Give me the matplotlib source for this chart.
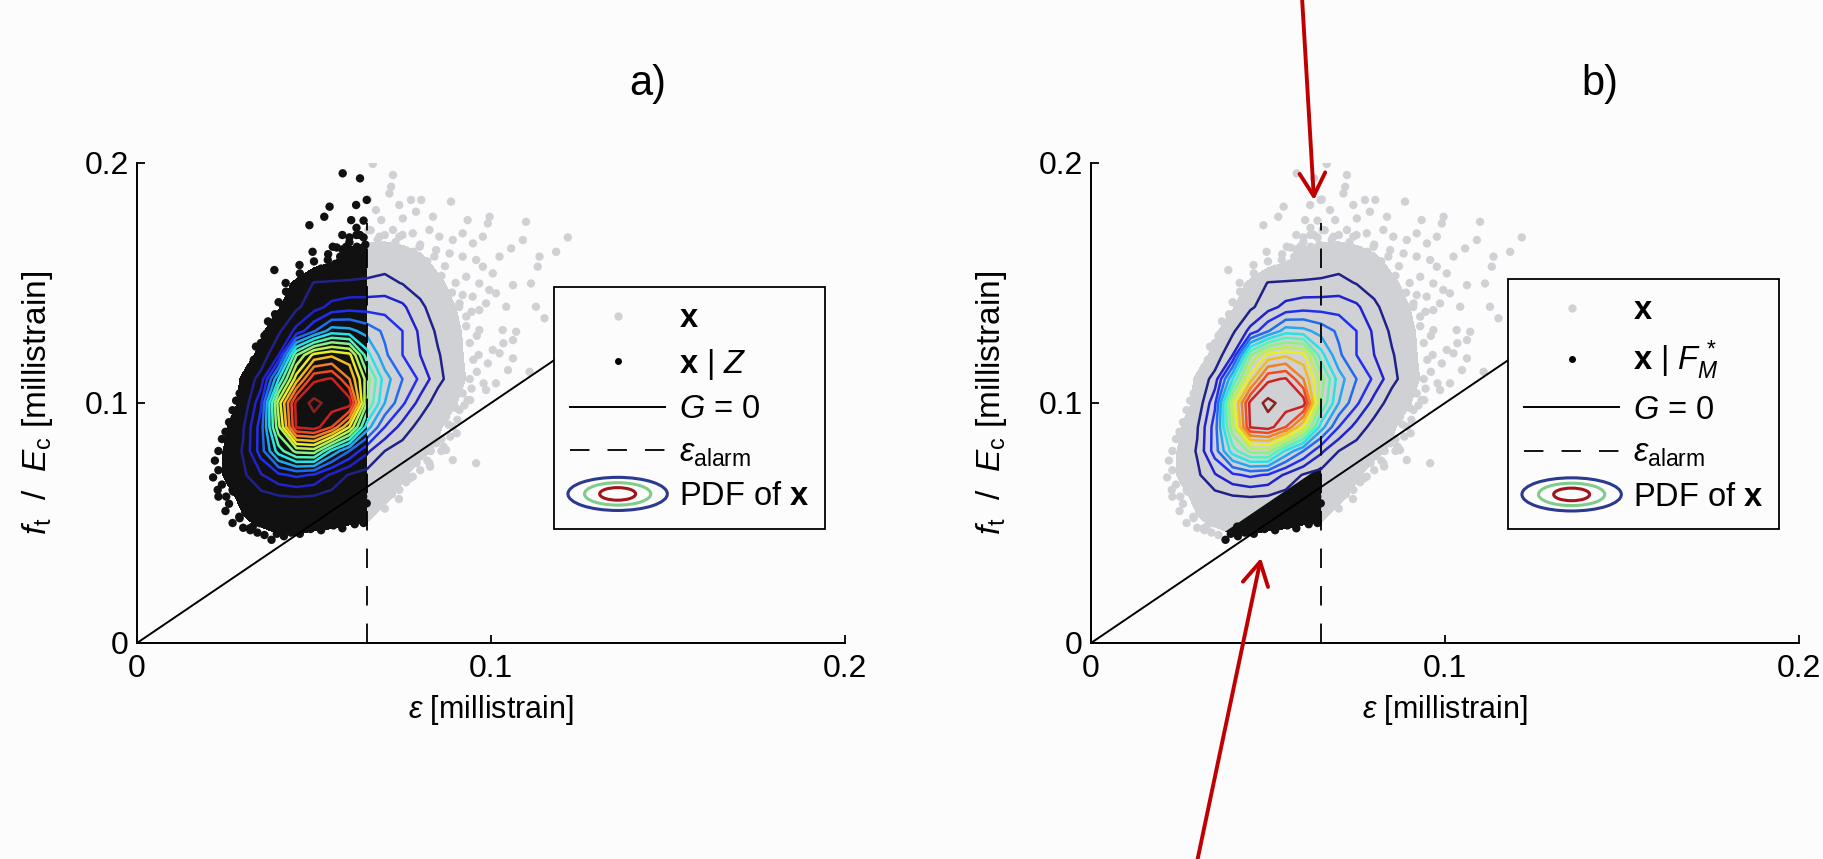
import numpy as np
import matplotlib.pyplot as plt
from matplotlib.patches import Ellipse, Polygon, Rectangle
from matplotlib.legend_handler import HandlerBase
from matplotlib.lines import Line2D

plt.rcParams['font.family'] = ['Liberation Sans', 'DejaVu Sans']
plt.rcParams['mathtext.fontset'] = 'custom'
plt.rcParams['mathtext.rm'] = 'Liberation Sans'
plt.rcParams['mathtext.it'] = 'Liberation Sans:italic'
plt.rcParams['mathtext.bf'] = 'Liberation Sans:bold'
plt.rcParams['lines.scale_dashes'] = False

# grid of the estimated PDF of x (strain on x, f_t/E_c on y)
eps_grid = [0.015, 0.020, 0.025, 0.030, 0.035, 0.040, 0.045, 0.050, 0.055, 0.060,
            0.065, 0.070, 0.075, 0.080, 0.085, 0.090, 0.095, 0.100, 0.105, 0.110]
ratio_grid = [0.03, 0.04, 0.05, 0.06, 0.07, 0.08, 0.09, 0.10, 0.11,
              0.12, 0.13, 0.14, 0.15, 0.16, 0.17, 0.18, 0.19, 0.20]
# PDF in contour-level units: 1 = outermost contour, 0 = edge of the dense sample cloud
pdf_levels = [
    [-2.5, -2.2, -2.0, -1.7, -1.5, -1.3, -1.3, -1.3, -1.4, -1.5, -1.6, -1.8, -2.0, -2.2, -2.4, -2.5, -2.5, -2.5, -2.5, -2.5],
    [-2.0, -1.5, -1.2, -0.8, -0.5, -0.3, -0.3, -0.4, -0.5, -0.6, -0.7, -1.0, -1.4, -1.8, -2.1, -2.3, -2.5, -2.5, -2.5, -2.5],
    [-2.0, -1.3, -0.7, -0.1, 0.1, 0.25, 0.25, 0.2, 0.15, 0.05, 0.0, -0.3, -0.7, -1.2, -1.6, -2.0, -2.3, -2.5, -2.5, -2.5],
    [-1.5, -0.8, -0.3, 0.2, 0.5, 0.7, 0.8, 0.7, 0.5, 0.4, 0.3, 0.1, -0.2, -0.6, -1.2, -1.7, -2.1, -2.4, -2.5, -2.5],
    [-1.5, -0.5, 0.1, 0.8, 1.9, 2.8, 3.2, 2.9, 1.8, 0.9, 0.6, 0.3, 0.1, -0.3, -0.8, -1.4, -1.9, -2.3, -2.5, -2.5],
    [-1.5, -0.6, 0.1, 1.1, 3.5, 6.5, 8.3, 8.5, 5.8, 4.0, 2.2, 1.0, 0.5, 0.2, -0.1, -0.6, -1.2, -1.8, -2.3, -2.5],
    [-1.5, -0.8, -0.1, 0.9, 3.5, 8.7, 14.1, 14.5, 13.0, 10.0, 5.5, 3.0, 1.6, 0.6, 0.1, -0.3, -1.0, -1.5, -2.0, -2.4],
    [-1.8, -1.2, -0.4, 0.2, 2.8, 9.5, 14.3, 15.3, 14.6, 14.6, 8.0, 5.0, 3.2, 1.6, 0.5, 0.05, -0.5, -1.2, -1.8, -2.3],
    [-2.0, -1.5, -0.8, 0.2, 1.4, 6.0, 10.5, 13.8, 14.1, 12.0, 8.5, 5.5, 4.0, 2.8, 1.3, 0.4, -0.3, -1.0, -1.6, -2.2],
    [-2.2, -1.8, -1.5, -0.5, 0.3, 2.0, 7.9, 10.3, 10.8, 10.3, 6.4, 4.2, 3.0, 2.0, 1.1, 0.3, -0.4, -1.0, -1.6, -2.2],
    [-2.4, -2.0, -1.8, -1.2, -0.2, 0.8, 2.3, 3.9, 5.5, 5.3, 4.6, 3.8, 3.0, 1.8, 0.8, 0.2, -0.4, -1.0, -1.6, -2.2],
    [-2.5, -2.3, -2.0, -1.6, -1.0, -0.1, 0.8, 1.6, 2.3, 2.6, 2.6, 2.6, 2.2, 1.2, 0.5, 0.0, -0.6, -1.2, -1.8, -2.3],
    [-2.5, -2.5, -2.3, -2.0, -1.5, -0.5, 0.2, 1.05, 1.1, 1.1, 1.15, 1.3, 0.95, 0.6, 0.2, -0.3, -1.0, -1.5, -2.0, -2.4],
    [-2.5, -2.5, -2.5, -2.3, -2.0, -1.5, -1.0, -0.6, -0.2, 0.3, 0.4, 0.5, 0.4, 0.2, -0.3, -0.8, -1.4, -1.9, -2.3, -2.5],
    [-2.5, -2.5, -2.5, -2.5, -2.3, -2.0, -1.6, -1.2, -0.8, -0.3, -0.2, -0.2, -0.3, -0.6, -1.0, -1.5, -2.0, -2.4, -2.5, -2.5],
    [-2.5, -2.5, -2.5, -2.5, -2.5, -2.5, -2.5, -2.3, -1.9, -1.5, -1.4, -1.4, -1.5, -1.8, -2.2, -2.5, -2.5, -2.5, -2.5, -2.5],
    [-2.5, -2.5, -2.5, -2.5, -2.5, -2.5, -2.5, -2.5, -2.5, -2.5, -2.5, -2.5, -2.5, -2.5, -2.5, -2.5, -2.5, -2.5, -2.5, -2.5],
    [-2.5, -2.5, -2.5, -2.5, -2.5, -2.5, -2.5, -2.5, -2.5, -2.5, -2.5, -2.5, -2.5, -2.5, -2.5, -2.5, -2.5, -2.5, -2.5, -2.5],
]
contour_levels = list(range(1, 16))

# samples of x outside the dense cloud (eps, f_t/E_c)
samples = [
    (0.0666, 0.1996), (0.0581, 0.1957), (0.0723, 0.1950), (0.0718, 0.1901), (0.0713, 0.1873),
    (0.0652, 0.1848), (0.0619, 0.1825), (0.0544, 0.1818), (0.0529, 0.1776), (0.0605, 0.1762),
    (0.0675, 0.1804), (0.0690, 0.1762), (0.0741, 0.1825), (0.0774, 0.1846), (0.0803, 0.1846),
    (0.0751, 0.1769), (0.0788, 0.1797), (0.0836, 0.1776), (0.0887, 0.1839), (0.0934, 0.1762),
    (0.0996, 0.1776), (0.0991, 0.1748), (0.1099, 0.1755), (0.1217, 0.1690), (0.1184, 0.1630),
    (0.1137, 0.1610), (0.1057, 0.1644), (0.1024, 0.1610), (0.1090, 0.1679), (0.0487, 0.1741),
    (0.0496, 0.1630), (0.0539, 0.1596), (0.0459, 0.1575), (0.0388, 0.1554), (0.0421, 0.1464),
    (0.0412, 0.1408), (0.0440, 0.1443), (0.0336, 0.1235), (0.0350, 0.1214), (0.0313, 0.1019),
    (0.1132, 0.1568), (0.1062, 0.1491), (0.1113, 0.1498), (0.1151, 0.1353), (0.1127, 0.1401),
    (0.1043, 0.1401), (0.1071, 0.1297), (0.1062, 0.1262), (0.1033, 0.1304), (0.0967, 0.1304),
    (0.1005, 0.1221), (0.1024, 0.1207), (0.1062, 0.1186), (0.0991, 0.1165), (0.1048, 0.1137),
    (0.1109, 0.1130), (0.1014, 0.1082), (0.0986, 0.1054), (0.0934, 0.1012), (0.0911, 0.0971),
    (0.0723, 0.1721), (0.0741, 0.1693), (0.0779, 0.1707), (0.0826, 0.1721), (0.0854, 0.1693),
    (0.0892, 0.1679), (0.0920, 0.1707), (0.0949, 0.1665), (0.0977, 0.1693), (0.0685, 0.1693),
    (0.0704, 0.1637), (0.0760, 0.1637), (0.0798, 0.1651), (0.0845, 0.1637), (0.0883, 0.1623),
    (0.0920, 0.1610), (0.0958, 0.1596), (0.0977, 0.1568), (0.1005, 0.1540), (0.0930, 0.1526),
    (0.0967, 0.1498), (0.0995, 0.1471), (0.0948, 0.1443), (0.0986, 0.1415), (0.1014, 0.1457),
    (0.0911, 0.1415), (0.0930, 0.1360), (0.0967, 0.1387), (0.0591, 0.1651), (0.0553, 0.1651),
    (0.0628, 0.1637), (0.0572, 0.1568), (0.0610, 0.1596),
    (0.0854, 0.0985), (0.0873, 0.0943), (0.0892, 0.0901), (0.0836, 0.0929), (0.0817, 0.0874),
    (0.0845, 0.0832), (0.0873, 0.0804), (0.0892, 0.0762), (0.0958, 0.0749), (0.0826, 0.0749),
    (0.0779, 0.0693), (0.0741, 0.0638), (0.0723, 0.0665), (0.0685, 0.0651), (0.0704, 0.0707),
    (0.0760, 0.0735), (0.0771, 0.0686), (0.0828, 0.0735), (0.0866, 0.0818), (0.0903, 0.0874),
    (0.0941, 0.1012), (0.1035, 0.1249), (0.0979, 0.1082),
    (0.0275, 0.0936), (0.0261, 0.0735), (0.0228, 0.0638), (0.0252, 0.0610), (0.0270, 0.0638),
    (0.0299, 0.0596), (0.0308, 0.0554), (0.0289, 0.0526), (0.0327, 0.0485), (0.0336, 0.0540),
    (0.0355, 0.0513), (0.0308, 0.0624), (0.0280, 0.0693), (0.0299, 0.0762), (0.0289, 0.0818),
    (0.0262, 0.0840), (0.0285, 0.0890), (0.0300, 0.0985), (0.0318, 0.1080), (0.0330, 0.1130),
    (0.0345, 0.1170), (0.0366, 0.1290), (0.0392, 0.1350),
    (0.0630, 0.1936), (0.0649, 0.1846), (0.0654, 0.1721), (0.0564, 0.1648), (0.0621, 0.1651),
    (0.0574, 0.1610), (0.0489, 0.1533), (0.0451, 0.1485), (0.0461, 0.1422), (0.0433, 0.1380),
    (0.0385, 0.1304), (0.0362, 0.1207), (0.0395, 0.1248), (0.0512, 0.1540), (0.0545, 0.1561),
    (0.0277, 0.0770), (0.0277, 0.0679), (0.0272, 0.0631), (0.0319, 0.0478), (0.0347, 0.0499),
    (0.0380, 0.0499), (0.0413, 0.0485), (0.0442, 0.0464), (0.0461, 0.0492), (0.0498, 0.0554),
    (0.0536, 0.0526), (0.0545, 0.0554), (0.0621, 0.0596), (0.0649, 0.0582), (0.0639, 0.0610),
    (0.0395, 0.0455), (0.0415, 0.0445), (0.0435, 0.0460), (0.0460, 0.0455), (0.0490, 0.0475),
    (0.0520, 0.0470), (0.0555, 0.0490), (0.0580, 0.0478), (0.0615, 0.0495), (0.0640, 0.0500),
    # fringe of the dense cloud
    (0.0560, 0.1580), (0.0600, 0.1670), (0.0640, 0.1690), (0.0680, 0.1680), (0.0730, 0.1670),
    (0.0780, 0.1630), (0.0820, 0.1590), (0.0860, 0.1530), (0.0890, 0.1460), (0.0910, 0.1400),
    (0.0930, 0.1320), (0.0940, 0.1250), (0.0950, 0.1180), (0.0940, 0.1100), (0.0920, 0.1040),
    (0.0900, 0.0980), (0.0880, 0.0910), (0.0860, 0.0850), (0.0830, 0.0800), (0.0790, 0.0750),
    (0.0760, 0.0700), (0.0720, 0.0620), (0.0690, 0.0580), (0.0520, 0.1560), (0.0470, 0.1510),
    (0.0430, 0.1450), (0.0390, 0.1370), (0.0360, 0.1280), (0.0330, 0.1180), (0.0310, 0.1100),
    (0.0290, 0.1040), (0.0270, 0.0970), (0.0250, 0.0880), (0.0230, 0.0800), (0.0230, 0.0720),
    (0.0240, 0.0660), (0.0260, 0.0580), (0.0290, 0.0520), (0.0320, 0.0470), (0.0360, 0.0450),
    (0.0540, 0.1620), (0.0580, 0.1640), (0.0620, 0.1700), (0.0660, 0.1720), (0.0700, 0.1700),
    (0.0750, 0.1700), (0.0800, 0.1660), (0.0840, 0.1610), (0.0870, 0.1570), (0.0900, 0.1500),
    (0.0920, 0.1450), (0.0945, 0.1380), (0.0960, 0.1280), (0.0965, 0.1200), (0.0960, 0.1130),
    (0.0945, 0.1060), (0.0925, 0.0990), (0.0905, 0.0930), (0.0885, 0.0860), (0.0860, 0.0800),
    (0.0820, 0.0760), (0.0800, 0.0720), (0.0760, 0.0670), (0.0740, 0.0600), (0.0700, 0.0560),
    (0.0500, 0.1590), (0.0460, 0.1540), (0.0420, 0.1500), (0.0400, 0.1420), (0.0370, 0.1340),
    (0.0350, 0.1250), (0.0320, 0.1150), (0.0300, 0.1060), (0.0280, 0.1010), (0.0260, 0.0920),
    (0.0240, 0.0850), (0.0220, 0.0760), (0.0215, 0.0690), (0.0230, 0.0610), (0.0250, 0.0550),
    (0.0270, 0.0500), (0.0300, 0.0480), (0.0340, 0.0460), (0.0380, 0.0430),
    (0.0630, 0.1700), (0.0645, 0.1660), (0.0600, 0.1690), (0.0640, 0.1760), (0.0580, 0.1700),
    (0.0620, 0.1730),
]

eps_alarm = 0.065
g_margin = 0.0085      # band above G = 0 holding x | F_M*
ticks = [0, 0.1, 0.2]
tick_labels = ['0', '0.1', '0.2']
panel_titles = ['a)', 'b)']
legend_labels = [
    [r'$\mathbf{x}$', r'$\mathbf{x}$ | $Z$', r'$G$ = 0',
     r'$\varepsilon_{\mathrm{alarm}}$', r'PDF of $\mathbf{x}$'],
    [r'$\mathbf{x}$', r'$\mathbf{x}$ | $F_M^{\,*}$', r'$G$ = 0',
     r'$\varepsilon_{\mathrm{alarm}}$', r'PDF of $\mathbf{x}$'],
]

bg = '#fcfcfc'
gray = '#cfd1d4'
navy = '#2b3990'
jet = plt.get_cmap('jet')
line_colors = [tuple(0.82 * np.array(jet(i / 14.0)[:3]) + 0.18 * 0.72) for i in range(15)]

sx = np.array([p[0] for p in samples])
sy = np.array([p[1] for p in samples])
X, Y = np.meshgrid(eps_grid, ratio_grid)
Z = np.array(pdf_levels)


class PdfKey:
    pass


class PdfKeyHandler(HandlerBase):
    def create_artists(self, legend, orig_handle, xdescent, ydescent, width, height, fontsize, trans):
        cx = 0.5 * width - xdescent
        cy = 0.5 * height - ydescent
        out = []
        for fw, fh, col in [(1.05, 1.45, navy), (0.70, 0.98, '#80cc8c'), (0.38, 0.55, '#a0141a')]:
            out.append(Ellipse((cx, cy), fw * width, fh * height, fill=False,
                               edgecolor=col, lw=2.2, transform=trans))
        return out


fig = plt.figure(figsize=(18.24, 8.59), dpi=100, facecolor=bg)
ax_a = fig.add_axes([137 / 1824, 216 / 859, 708 / 1824, 480 / 859])
ax_b = fig.add_axes([1091 / 1824, 216 / 859, 708 / 1824, 480 / 859])

for k, ax in enumerate([ax_a, ax_b]):
    ax.set_facecolor('none')
    # dense part of the sample cloud and scattered samples
    ax.contourf(X, Y, Z, levels=[0, 100], colors=[gray], zorder=1)
    ax.scatter(sx, sy, s=36, c=gray, edgecolors='none', zorder=1)

    # conditioned samples in black
    if k == 0:
        mask = sx < eps_alarm
        clip = Rectangle((-0.1, -0.1), 0.1 + eps_alarm, 0.5, transform=ax.transData)
    else:
        mask = (sx < eps_alarm) & (sy < sx + g_margin)
        clip = Polygon([(-0.1, -0.1), (eps_alarm, -0.1), (eps_alarm, eps_alarm + g_margin),
                        (-0.1, -0.1 + g_margin)], closed=True, transform=ax.transData)
    cf = ax.contourf(X, Y, Z, levels=[0, 100], colors=['#111111'], zorder=2)
    cf.set_clip_path(clip)
    ax.scatter(sx[mask], sy[mask], s=36, c='#111111', edgecolors='none', zorder=2)

    # PDF contours
    ax.contour(X, Y, Z, levels=contour_levels, colors=line_colors, linewidths=1.8, zorder=3)

    ax.plot([0, 0.14], [0, 0.14], color='k', lw=1.4, zorder=4)
    ax.plot([eps_alarm, eps_alarm], [0, 0.175], color='k', lw=1.3, dashes=(14, 13), zorder=4)

    ax.set_xlim(0, 0.2)
    ax.set_ylim(0, 0.2)
    ax.set_xticks(ticks)
    ax.set_xticklabels(tick_labels)
    ax.set_yticks(ticks)
    ax.set_yticklabels(tick_labels)
    for side in ['top', 'right']:
        ax.spines[side].set_visible(False)
    for side in ['left', 'bottom']:
        ax.spines[side].set_linewidth(1.4)
    ax.tick_params(direction='in', length=6, width=1.3, labelsize=23)
    ax.tick_params(axis='x', pad=8)
    ax.tick_params(axis='y', pad=6)
    ax.set_xlabel(r'$\varepsilon$ [millistrain]', fontsize=22)
    ax.set_ylabel(r'$f_{\mathrm{t}}$  /  $E_{\mathrm{c}}$ [millistrain]', fontsize=24)
    ax.xaxis.set_label_coords(0.5, -0.105)
    ax.yaxis.set_label_coords(-0.116, 0.5)

    handles = [
        Line2D([], [], ls='none', marker='o', ms=6, mfc=gray, mec='none'),
        Line2D([], [], ls='none', marker='o', ms=5, mfc='k', mec='none'),
        Line2D([], [], color='k', lw=1.4),
        Line2D([], [], color='k', lw=1.3, dashes=(14, 13)),
        PdfKey(),
    ]
    anchor = [(554 / 1824, 1 - 287 / 859), (1508 / 1824, 1 - 279 / 859)][k]
    leg = ax.legend(handles, legend_labels[k], loc='upper left', bbox_to_anchor=anchor,
                    bbox_transform=fig.transFigure, borderaxespad=0, fontsize=23.5,
                    handlelength=2.9, handletextpad=0.42, borderpad=0.5, labelspacing=0.38,
                    fancybox=False, edgecolor='k', facecolor=bg, framealpha=1,
                    handler_map={PdfKey: PdfKeyHandler()})
    leg.get_frame().set_linewidth(1.3)
    leg.set_zorder(6)

fig.text(648 / 1824, 1 - 84 / 859, panel_titles[0], ha='center', va='center', fontsize=30)
fig.text(1600 / 1824, 1 - 84 / 859, panel_titles[1], ha='center', va='center', fontsize=30)

# red pointer arrows
arrow = dict(arrowstyle='->,head_length=0.75,head_width=0.42', lw=2.8, color='#c00000',
             mutation_scale=22, shrinkA=0, shrinkB=0)
fig.add_artist(plt.Annotation('', xy=(1314, 659), xycoords='figure pixels',
                              xytext=(1302, 862), textcoords='figure pixels',
                              arrowprops=arrow, annotation_clip=False))
fig.add_artist(plt.Annotation('', xy=(1261, 301), xycoords='figure pixels',
                              xytext=(1197, -3), textcoords='figure pixels',
                              arrowprops=arrow, annotation_clip=False))

fig.savefig('out.png', dpi=100, facecolor=bg)
